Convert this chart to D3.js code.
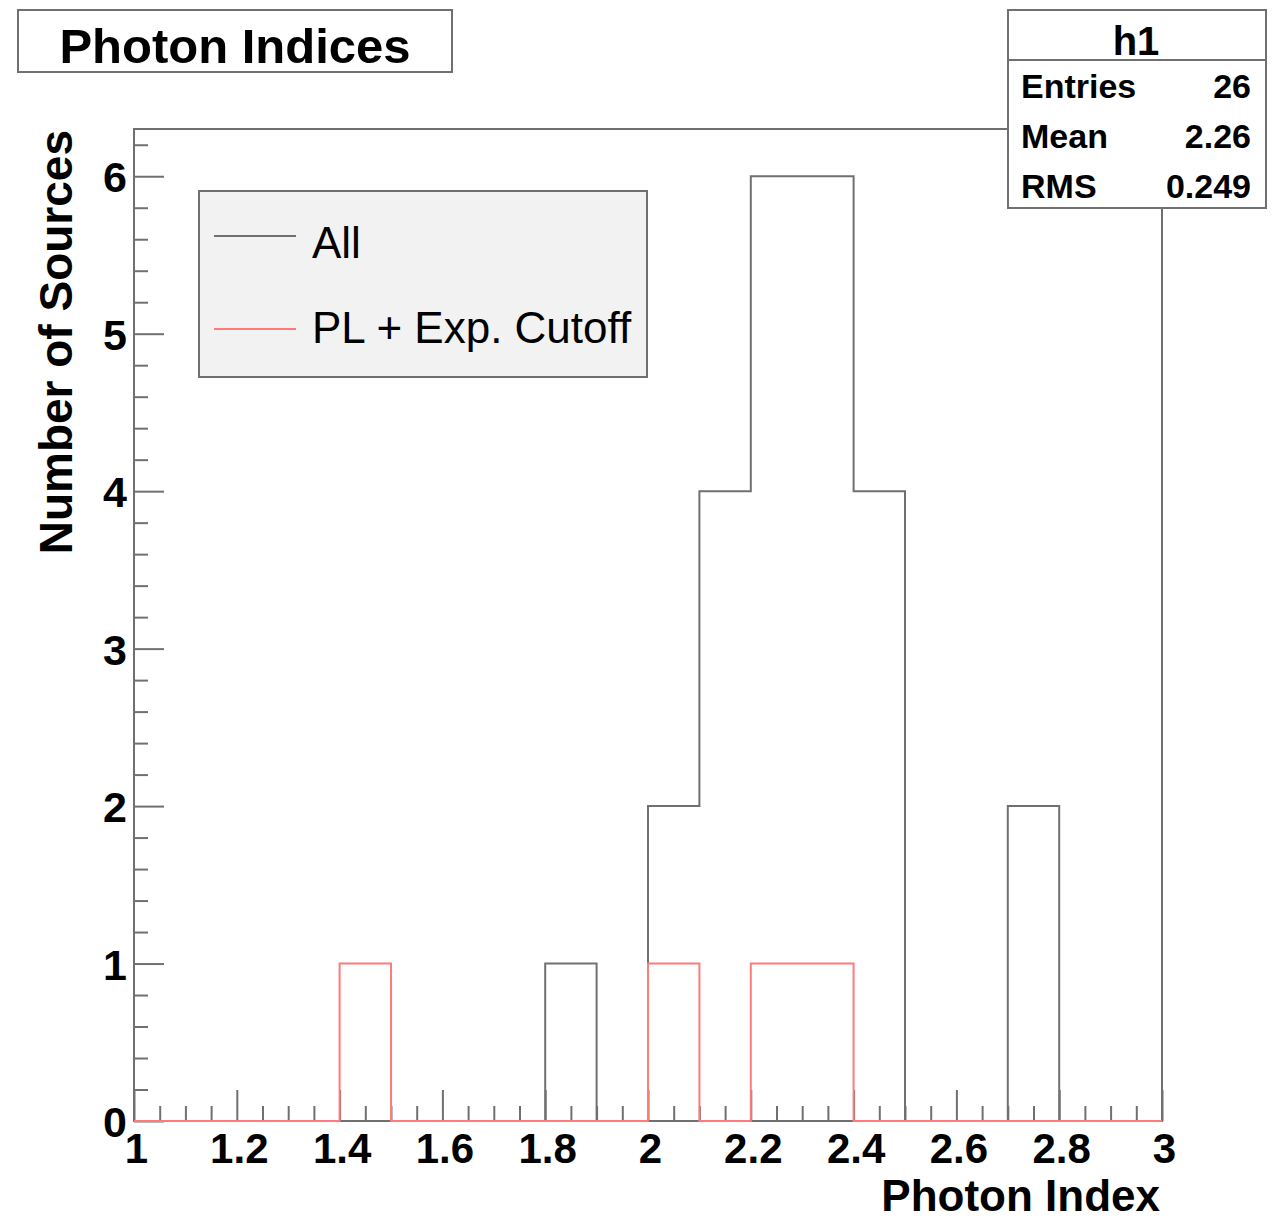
<!DOCTYPE html>
<html lang="en">
  <head>
    <meta charset='utf-8'>
    <script src='https://d3js.org/d3.v7.min.js'></script>
    <title>Photon Indices</title>
    <style>
      body { margin: 0px; background: #fff; }
      text { font-family: 'Liberation Sans', Arial, Helvetica, sans-serif; fill: #000; }
      .bold { font-weight: bold; }
      .domain { display: none; }
      .tick line { stroke: #707070; stroke-width: 2; }
    </style>
  </head>
  <body>
    <svg id='chart' width='1274' height='1221'></svg>
    <script>
      // histogram bins (lower edges), width 0.1
      const binLow = [1.0, 1.1, 1.2, 1.3, 1.4, 1.5, 1.6, 1.7, 1.8, 1.9,
                      2.0, 2.1, 2.2, 2.3, 2.4, 2.5, 2.6, 2.7, 2.8, 2.9];
      const binWidth = 0.1;
      const allCounts    = [0, 0, 0, 0, 0, 0, 0, 0, 1, 0, 2, 4, 6, 6, 4, 0, 0, 2, 0, 0];
      const cutoffCounts = [0, 0, 0, 0, 1, 0, 0, 0, 0, 0, 1, 0, 1, 1, 0, 0, 0, 0, 0, 0];

      const xMajor = [1, 1.2, 1.4, 1.6, 1.8, 2, 2.2, 2.4, 2.6, 2.8, 3];
      const xMajorLabels = ['1', '1.2', '1.4', '1.6', '1.8', '2', '2.2', '2.4', '2.6', '2.8', '3'];
      const xMinor = [1.05, 1.1, 1.15, 1.25, 1.3, 1.35, 1.45, 1.5, 1.55, 1.65, 1.7, 1.75,
                      1.85, 1.9, 1.95, 2.05, 2.1, 2.15, 2.25, 2.3, 2.35, 2.45, 2.5, 2.55,
                      2.65, 2.7, 2.75, 2.85, 2.9, 2.95];
      const yMajor = [0, 1, 2, 3, 4, 5, 6];
      const yMinor = [0.2, 0.4, 0.6, 0.8, 1.2, 1.4, 1.6, 1.8, 2.2, 2.4, 2.6, 2.8,
                      3.2, 3.4, 3.6, 3.8, 4.2, 4.4, 4.6, 4.8, 5.2, 5.4, 5.6, 5.8, 6.2];

      const legendItems = [
        { label: 'All', color: '#707070' },
        { label: 'PL + Exp. Cutoff', color: '#ff7b7b' }
      ];
      const statsRows = [['Entries', '26'], ['Mean', '2.26'], ['RMS', '0.249']];

      const svg = d3.select('#chart');
      const frame = { left: 134, right: 1162, top: 129, bottom: 1121 };
      const lineColor = '#707070';

      const x = d3.scaleLinear().domain([1, 3]).range([frame.left, frame.right]);
      const y = d3.scaleLinear().domain([0, 6.3]).range([frame.bottom, frame.top]);

      // step outline of a histogram
      function stepPoints(counts) {
        const pts = [[binLow[0], 0]];
        counts.forEach((c, i) => {
          pts.push([binLow[i], c]);
          pts.push([binLow[i] + binWidth, c]);
        });
        pts.push([binLow[binLow.length - 1] + binWidth, 0]);
        return pts;
      }
      const line = d3.line().x(d => x(d[0])).y(d => y(d[1]));

      const g = svg.append('g');

      // frame border
      g.append('rect')
        .attr('x', frame.left).attr('y', frame.top)
        .attr('width', frame.right - frame.left)
        .attr('height', frame.bottom - frame.top)
        .attr('fill', 'none')
        .attr('stroke', lineColor)
        .attr('stroke-width', 2);

      // x axis ticks (pointing up into the frame)
      g.append('g').attr('transform', `translate(0,${frame.bottom})`)
        .call(d3.axisBottom(x).tickValues(xMinor).tickSize(-15).tickFormat(''));
      const xMajorG = g.append('g').attr('transform', `translate(0,${frame.bottom})`)
        .call(d3.axisBottom(x).tickValues(xMajor).tickSize(-31)
          .tickFormat((d, i) => xMajorLabels[i]));
      xMajorG.selectAll('text')
        .attr('class', 'bold')
        .attr('x', 2)
        .attr('y', 42)
        .attr('dy', 0)
        .style('font-size', '42px')
        .style('fill', '#000');

      // y axis ticks (pointing right into the frame)
      g.append('g').attr('transform', `translate(${frame.left},0)`)
        .call(d3.axisLeft(y).tickValues(yMinor).tickSize(-14).tickFormat(''));
      const yMajorG = g.append('g').attr('transform', `translate(${frame.left},0)`)
        .call(d3.axisLeft(y).tickValues(yMajor).tickSize(-30).tickFormat(d3.format('d')));
      yMajorG.selectAll('text')
        .attr('class', 'bold')
        .attr('x', -7)
        .attr('dy', '0.36em')
        .style('font-size', '43px')
        .style('fill', '#000');

      // histograms drawn over the axes, cutoff on top
      g.append('path')
        .attr('d', line(stepPoints(allCounts)))
        .attr('fill', 'none')
        .attr('stroke', legendItems[0].color)
        .attr('stroke-width', 2);

      g.append('path')
        .attr('d', line(stepPoints(cutoffCounts)))
        .attr('fill', 'none')
        .attr('stroke', legendItems[1].color)
        .attr('stroke-width', 2);

      // axis titles
      svg.append('text')
        .attr('class', 'bold')
        .attr('x', frame.right - 2)
        .attr('y', 1211)
        .attr('text-anchor', 'end')
        .style('font-size', '44px')
        .text('Photon Index');

      svg.append('text')
        .attr('class', 'bold')
        .attr('transform', `translate(72,${frame.top + 1}) rotate(-90)`)
        .attr('text-anchor', 'end')
        .style('font-size', '46px')
        .text('Number of Sources');

      // legend
      const leg = svg.append('g');
      leg.append('rect')
        .attr('x', 199).attr('y', 191).attr('width', 448).attr('height', 186)
        .attr('fill', '#f2f2f2').attr('stroke', lineColor).attr('stroke-width', 2);
      legendItems.forEach((item, i) => {
        const ly = 236 + i * 93;
        leg.append('line')
          .attr('x1', 214).attr('x2', 296).attr('y1', ly).attr('y2', ly)
          .attr('stroke', item.color).attr('stroke-width', 2);
        leg.append('text')
          .attr('x', 312).attr('y', 258 + i * 85)
          .style('font-size', '44px')
          .text(item.label);
      });

      // title box
      svg.append('rect')
        .attr('x', 18).attr('y', 10).attr('width', 434).attr('height', 62)
        .attr('fill', '#fff').attr('stroke', lineColor).attr('stroke-width', 2);
      svg.append('text')
        .attr('class', 'bold')
        .attr('x', 235).attr('y', 63)
        .attr('text-anchor', 'middle')
        .style('font-size', '49px')
        .text('Photon Indices');

      // stats box
      const st = svg.append('g');
      st.append('rect')
        .attr('x', 1008).attr('y', 10).attr('width', 258).attr('height', 198)
        .attr('fill', '#fff').attr('stroke', lineColor).attr('stroke-width', 2);
      st.append('line')
        .attr('x1', 1008).attr('x2', 1266).attr('y1', 60).attr('y2', 60)
        .attr('stroke', lineColor).attr('stroke-width', 2);
      st.append('text')
        .attr('class', 'bold')
        .attr('x', 1136).attr('y', 55)
        .attr('text-anchor', 'middle')
        .style('font-size', '40px')
        .text('h1');
      statsRows.forEach((r, i) => {
        const by = 98 + i * 50;
        st.append('text').attr('class', 'bold')
          .attr('x', 1021).attr('y', by)
          .style('font-size', '34px')
          .text(r[0]);
        st.append('text').attr('class', 'bold')
          .attr('x', 1251).attr('y', by)
          .attr('text-anchor', 'end')
          .style('font-size', '34px')
          .text(r[1]);
      });
    </script>
  </body>
</html>
